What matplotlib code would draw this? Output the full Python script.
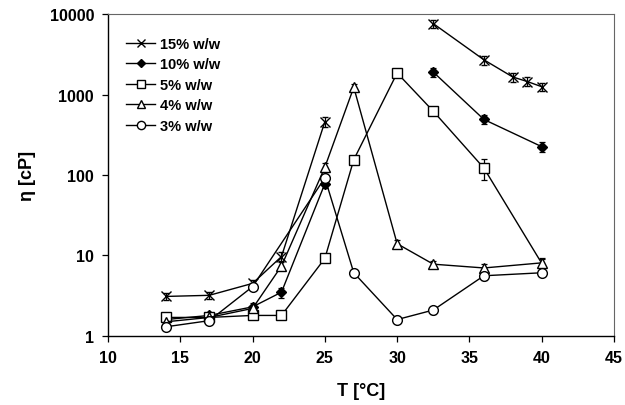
import matplotlib
matplotlib.use("Agg")
import matplotlib.pyplot as plt
from matplotlib.lines import Line2D
from matplotlib.ticker import FixedLocator, FixedFormatter, NullLocator

plt.rcParams["font.family"] = ["Liberation Sans", "DejaVu Sans"]
plt.rcParams["font.weight"] = "bold"

# temperatures [°C] and viscosities [cP]
t15 = [14, 17, 20, 22, 25, 32.5, 36, 38, 39, 40]
v15 = [3.1, 3.2, 4.5, 9.7, 460, 7600, 2700, 1650, 1450, 1250]
e15 = [0.3, 0.3, 0.4, 1.2, 70, 900, 350, 200, 180, 160]

t10 = [14, 17, 20, 22, 25, 32.5, 36, 40]
v10 = [1.6, 1.8, 2.3, 3.5, 78, 1900, 490, 225]
e10 = [0.15, 0.15, 0.25, 0.5, 10, 250, 60, 30]

t5 = [14, 17, 20, 22, 25, 27, 30, 32.5, 36, 40]
v5 = [1.7, 1.7, 1.8, 1.8, 9.2, 155, 1850, 620, 122, 8.0]
e5 = [0.1, 0.1, 0.1, 0.1, 0.8, 15, 150, 70, 35, 1.0]

t4 = [14, 17, 20, 22, 25, 27, 30, 32.5, 36, 40]
v4 = [1.5, 1.7, 2.2, 7.4, 125, 1230, 14, 7.8, 7.0, 8.1]
e4 = [0.15, 0.15, 0.2, 0.8, 15, 120, 1.5, 0.8, 0.8, 1.3]

t3 = [14, 17, 20, 25, 27, 30, 32.5, 36, 40]
v3 = [1.3, 1.55, 4.1, 92, 6.1, 1.6, 2.1, 5.6, 6.1]
e3 = [0.1, 0.1, 0.4, 10, 0.5, 0.15, 0.2, 0.6, 0.6]

# the 15% and 10% curves are not joined across the gel region (25 -> 32.5)
BREAK_AT = 30

series = [
    ("15% w/w", t15, v15, e15, dict(marker="x", mfc="black", ms=6.5, mew=1.0), True),
    ("10% w/w", t10, v10, e10, dict(marker="D", mfc="black", ms=5), True),
    ("5% w/w", t5, v5, e5, dict(marker="s", mfc="white", ms=7.5), False),
    ("4% w/w", t4, v4, e4, dict(marker="^", mfc="white", ms=7), False),
    ("3% w/w", t3, v3, e3, dict(marker="o", mfc="white", ms=7), False),
]

xticks = [10, 15, 20, 25, 30, 35, 40, 45]
yticks = [1, 10, 100, 1000, 10000]
ylabels = ["1", "10", "100", "1000", "10000"]

fig = plt.figure(figsize=(6.25, 4.06), dpi=100)
ax = fig.add_axes([0.1728, 0.170, 0.8096, 0.793])

common = dict(color="black", lw=1.0, mec="black", elinewidth=0.9,
              capsize=2.5, capthick=0.9)

handles = []
for label, t, v, e, style, split in series:
    if split:
        parts = [[i for i, x in enumerate(t) if x < BREAK_AT],
                 [i for i, x in enumerate(t) if x >= BREAK_AT]]
    else:
        parts = [list(range(len(t)))]
    for idx in parts:
        kw = dict(style)
        if label == "5% w/w":
            # last 5% point has no visible marker in the original
            kw["markevery"] = list(range(len(idx) - 1))
        ax.errorbar([t[i] for i in idx], [v[i] for i in idx],
                    yerr=[e[i] for i in idx], **common, **kw)
    hs = dict(style)
    hs["ms"] = style["ms"] * 0.85
    handles.append(Line2D([], [], color="black", lw=1.0, mec="black",
                          label=label, **hs))

ax.set_yscale("log")
ax.set_xlim(10, 45)
ax.set_ylim(1, 10000)
ax.xaxis.set_major_locator(FixedLocator(xticks))
ax.yaxis.set_major_locator(FixedLocator(yticks))
ax.yaxis.set_major_formatter(FixedFormatter(ylabels))
ax.yaxis.set_minor_locator(NullLocator())
ax.tick_params(direction="out", length=4, width=0.9, labelsize=11.5, pad=6)

for s in ("top", "right"):
    ax.spines[s].set_color("#666666")
    ax.spines[s].set_linewidth(0.8)
for s in ("left", "bottom"):
    ax.spines[s].set_linewidth(1.0)

ax.set_xlabel("T [°C]", fontsize=13, fontweight="bold", labelpad=12)
ax.set_ylabel("η [cP]", fontsize=13, fontweight="bold", labelpad=10)

ax.legend(handles=handles, loc="upper left", bbox_to_anchor=(0.01, 0.97),
          frameon=False, handlelength=2.0, handletextpad=0.3,
          labelspacing=0.45, prop={"weight": "bold", "size": 10.5})

fig.savefig("out.png", dpi=100)
plt.close(fig)
